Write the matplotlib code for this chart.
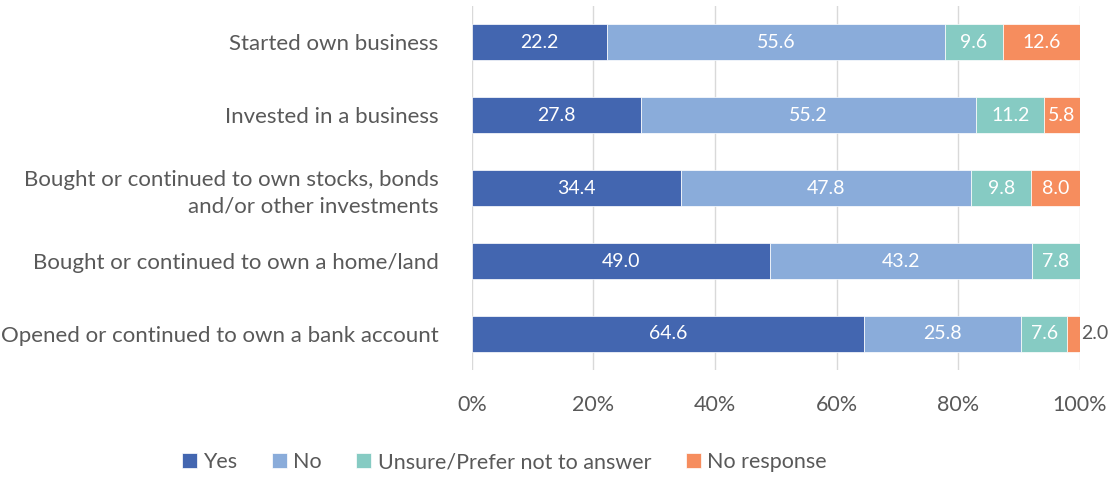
import matplotlib.pyplot as plt
import numpy as np

plt.rcParams['font.family'] = ['Lato', 'DejaVu Sans']

# categories listed bottom to top
categories = ["Opened or continued to own a bank account",
              "Bought or continued to own a home/land",
              "Bought or continued to own stocks, bonds\nand/or other investments",
              "Invested in a business",
              "Started own business"]
yes = [64.6, 49.0, 34.4, 27.8, 22.2]
no = [25.8, 43.2, 47.8, 55.2, 55.6]
unsure = [7.6, 7.8, 9.8, 11.2, 9.6]
no_resp = [2.0, 0.0, 8.0, 5.8, 12.6]
series_names = ["Yes", "No", "Unsure/Prefer not to answer", "No response"]
colors = ["#4366B0", "#8AACDA", "#86CBC3", "#F68D5E"]
text_gray = "#595959"

fig = plt.figure(figsize=(11.13, 4.78), dpi=100)
ax = fig.add_axes([0.424, 0.225, 0.546, 0.763])

y = np.arange(len(categories))
left = np.zeros(len(categories))
for vals, name, col in zip([yes, no, unsure, no_resp], series_names, colors):
    vals = np.array(vals)
    ax.barh(y, vals, left=left, height=0.5, color=col, label=name, zorder=3,
            edgecolor='white', linewidth=0.5)
    for yi, l, v in zip(y, left, vals):
        if v <= 0:
            continue
        if v < 3:
            ax.text(l + v + 0.3, yi, f"{v:.1f}", ha='left', va='center',
                    fontsize=14, color=text_gray)
        else:
            ax.text(l + v / 2, yi, f"{v:.1f}", ha='center', va='center',
                    fontsize=14, color='white')
    left = left + vals

ax.set_xlim(0, 100)
ax.set_ylim(-0.5, len(categories) - 0.5)
ax.set_xticks(np.arange(0, 101, 20))
ax.set_xticklabels([f"{t}%" for t in range(0, 101, 20)])
ax.set_yticks(y)
ax.set_yticklabels(categories, ha='right', fontsize=16, color=text_gray,
                   linespacing=1.4)
ax.tick_params(axis='x', labelsize=15.5, colors=text_gray, length=0, pad=18)
ax.tick_params(axis='y', length=0, pad=24)
ax.grid(axis='x', color='#D9D9D9', linewidth=1, zorder=0)
for s in ax.spines.values():
    s.set_visible(False)

handles, labels = ax.get_legend_handles_labels()
fig.legend(handles, labels, loc='center', bbox_to_anchor=(0.453, 0.033), ncol=4,
           frameon=False, fontsize=15.5, handlelength=0.7, handleheight=0.7,
           handletextpad=0.3, columnspacing=1.6, labelcolor=text_gray)

fig.savefig("out.png", dpi=100)
